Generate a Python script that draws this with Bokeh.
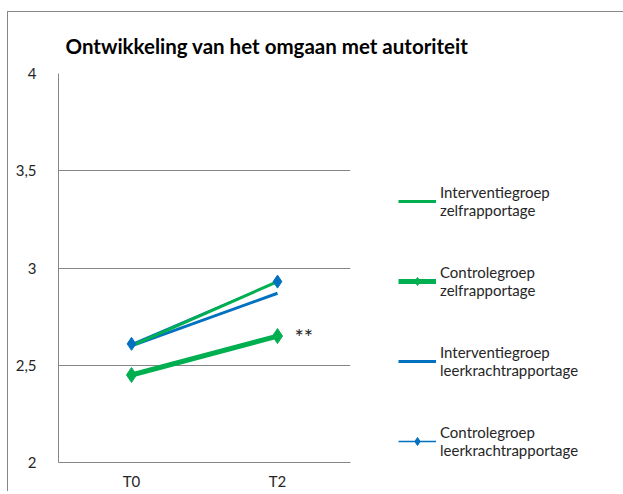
from bokeh.plotting import figure
from bokeh.models import FactorRange, FixedTicker, Legend, LegendItem, Title
from bokeh.core.properties import value
from bokeh.embed import file_html
from bokeh.resources import INLINE

# data
timepoints = ["T0", "T2"]
interventie_zelf = [2.60, 2.93]
controle_zelf = [2.45, 2.65]
interventie_leerkracht = [2.60, 2.87]
controle_leerkracht = [2.61, 2.93]
y_ticks = [2, 2.5, 3, 3.5, 4]
y_tick_labels = ["2", "2,5", "3", "3,5", "4"]
title_text = "Ontwikkeling van het omgaan met autoriteit"
sig_mark = "**"

GREEN = "#00B050"
BLUE = "#0070C0"
FONT = "Lato"

p = figure(frame_width=292, frame_height=389, x_range=FactorRange(*timepoints), y_range=(2, 4),
           output_backend="svg", toolbar_location=None,
           min_border_left=50, min_border_right=10, min_border_bottom=10, min_border_top=61)
p.styles = {"margin-left": "8px", "margin-top": "12px",
            "box-shadow": "-1px -1px 0px 0px #868686"}
p.x_range.range_padding = 0

# small spacer between title and plot area
p.add_layout(Title(text=" ", text_font_size="8px", standoff=0), "above")

p.title.text = title_text
p.title.text_font = FONT
p.title.text_font_size = "20.5px"
p.title.text_font_style = "bold"
p.title.text_color = "#000000"
p.title.align = "left"
p.title.offset = 7

p.outline_line_color = None
p.xgrid.grid_line_color = None
p.ygrid.grid_line_color = "#868686"
p.ygrid.ticker = FixedTicker(ticks=y_ticks)

p.yaxis.ticker = FixedTicker(ticks=y_ticks)
p.yaxis.major_label_overrides = {t: l for t, l in zip(y_ticks, y_tick_labels)}
p.yaxis.axis_line_color = "#868686"
p.yaxis.major_tick_line_color = None
p.yaxis.minor_tick_line_color = None
p.yaxis.major_label_standoff = 16
p.xaxis.axis_line_color = "#868686"
p.xaxis.major_tick_line_color = None
p.xaxis.major_label_standoff = 3
for ax in (p.xaxis, p.yaxis):
    ax.major_label_text_font = FONT
    ax.major_label_text_font_size = "15px"
    ax.major_label_text_color = "#262626"

r_il = p.line(timepoints, interventie_leerkracht, line_color=BLUE, line_width=3)
r_cl_line = p.line(timepoints, controle_leerkracht, line_color=BLUE, line_width=1.5)
r_iz = p.line(timepoints, interventie_zelf, line_color=GREEN, line_width=3)
r_cl_pts = p.scatter(timepoints, controle_leerkracht, marker="diamond", size=13,
                     fill_color=BLUE, line_color=BLUE)
r_cz_line = p.line(timepoints, controle_zelf, line_color=GREEN, line_width=5)
r_cz_pts = p.scatter(timepoints, controle_zelf, marker="diamond", size=15,
                     fill_color=GREEN, line_color=GREEN)

p.text(x=[timepoints[-1]], y=[controle_zelf[-1]], text=[sig_mark], x_offset=17, y_offset=0,
       text_font=value(FONT), text_font_size="22px", text_color="#262626",
       text_baseline="middle")

legend = Legend(items=[
    LegendItem(label="Interventiegroep\nzelfrapportage", renderers=[r_iz]),
    LegendItem(label="Controlegroep\nzelfrapportage", renderers=[r_cz_line, r_cz_pts]),
    LegendItem(label="Interventiegroep\nleerkrachtrapportage", renderers=[r_il]),
    LegendItem(label="Controlegroep\nleerkrachtrapportage", renderers=[r_cl_line, r_cl_pts]),
], location=(48, 3), orientation="vertical")
legend.border_line_color = None
legend.background_fill_alpha = 0
legend.label_text_font = FONT
legend.label_text_font_size = "15px"
legend.label_text_color = "#262626"
legend.glyph_width = 38
legend.glyph_height = 20
legend.spacing = 44
legend.padding = 0
legend.margin = 0
legend.label_standoff = 4
p.add_layout(legend, "right")

open("out.html", "w").write(file_html(p, INLINE))
